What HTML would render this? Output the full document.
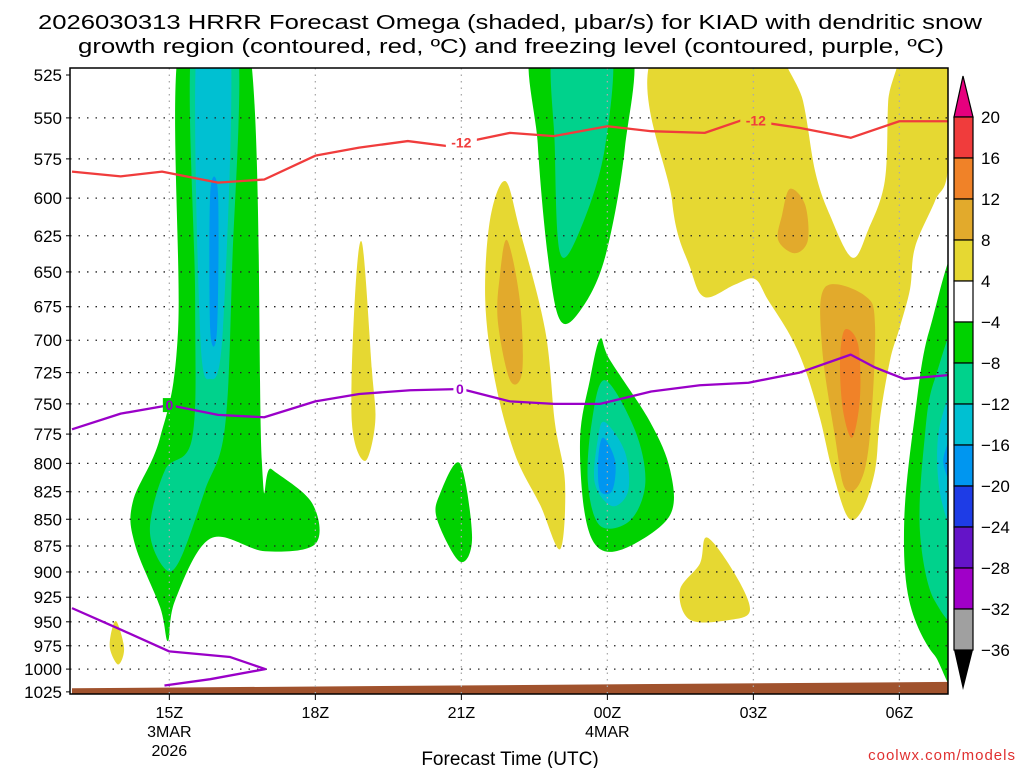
<!DOCTYPE html>
<html><head><meta charset="utf-8"><style>
body{margin:0;background:#fff}
svg{display:block;font-family:"Liberation Sans",sans-serif}
</style></head><body>
<svg id="chart" width="1024" height="768" viewBox="0 0 1024 768" xmlns="http://www.w3.org/2000/svg">
<defs><clipPath id="plotclip"><rect x="70" y="68" width="878" height="626"/></clipPath></defs>
<text x="510" y="29" font-size="20" text-anchor="middle" textLength="944" lengthAdjust="spacingAndGlyphs">2026030313 HRRR Forecast Omega (shaded, μbar/s) for KIAD with dendritic snow</text>
<text x="511" y="53" font-size="20" text-anchor="middle" textLength="866" lengthAdjust="spacingAndGlyphs">growth region (contoured, red, ºC) and freezing level (contoured, purple, ºC)</text>
<g id="shade" clip-path="url(#plotclip)"></g>
<g id="grid"></g>
<g id="lines" clip-path="url(#plotclip)"></g>
<g id="axes"></g>
<g id="cbar"></g>
<text x="510" y="765" font-size="19" text-anchor="middle">Forecast Time (UTC)</text>
<text x="1016" y="760" font-size="15" fill="#e03030" text-anchor="end" letter-spacing="1">coolwx.com/models</text>
</svg>
<script>
// ---- data ----
const pressureTicks=[525,550,575,600,625,650,675,700,725,750,775,800,825,850,875,900,925,950,975,1000,1025];
const timeTickHours=[2,5,8,11,14,17];
const timeTickLabels=["15Z","18Z","21Z","00Z","03Z","06Z"];
const dateLabels={2:["3MAR","2026"],11:["4MAR"]};
const cbarLevels=[20,16,12,8,4,-4,-8,-12,-16,-20,-24,-28,-32,-36];
const cbarColors=["#f03c3c","#f08228","#e2aa2c","#e6d832","#ffffff","#00d200","#00d28c","#00c0d2","#0096f0","#1e3ce6","#6414c8","#a000c8","#a0a0a0"];
const redHours=[0,1,1.85,3,3.95,5,5.9,6.9,7.7,9,9.9,11,11.9,13,13.8,14.95,16,17,18];
const redPres=[583,586,583,590,588,573,568,564,567,559,561,555,558,559,551,556,562,552,552];
const purHours=[0,1,2,3,3.95,5,5.9,6.95,8,9,9.9,10.85,11.9,12.9,13.9,14.95,16,16.5,17.1,18];
const purPres=[771,758,751,759,761,748,742,739,738,748,750,750,740,735,733,725,711,721,730,727];
const pur2Hours=[0,1,2,3.25,3.97,2.84,1.9];
const pur2Pres=[936,958,981,987,1000,1011,1018];
const terrainHours=[0,18];
const terrainPres=[1021,1014];
// shaded regions: [colorIndex, [[hour,hPa],...]]
const blobs=[
 [3,[[12.23,505],[18,505],[18,580],[17.73,602],[17.32,633],[17.22,662],[17.01,690],[16.81,715],[16.6,762],[16.5,806],[16.23,842],[15.94,848],[15.62,806],[15.37,762],[15.06,722],[14.75,696],[14.3,670],[14.03,655],[13.62,659],[13.0,668],[12.7,647],[12.33,602]]],
 [4,[[14.65,505],[15.02,540],[15.27,583],[15.57,611],[16.03,640],[16.36,621],[16.7,589],[16.77,540],[16.87,505]]],
 [2,[[14.75,594],[15.06,604],[15.12,628],[14.85,637],[14.51,628],[14.59,611]]],
 [2,[[15.47,661],[16.29,667],[16.5,690],[16.39,778],[16.19,817],[15.88,822],[15.68,778],[15.41,705]]],
 [1,[[15.88,692],[16.15,703],[16.19,745],[16.03,778],[15.84,755],[15.78,716]]],
 [3,[[8.9,589],[9.2,621],[9.72,692],[9.92,765],[10.13,817],[10.03,878],[9.62,837],[9.1,792],[8.69,731],[8.49,670],[8.59,614]]],
 [2,[[8.94,628],[9.2,670],[9.25,724],[9.0,731],[8.75,686],[8.79,653]]],
 [3,[[5.96,630],[6.16,722],[6.23,765],[6.02,798],[5.75,765],[5.81,670]]],
 [3,[[0.92,950],[1.07,978],[0.95,995],[0.78,978],[0.82,958]]],
 [3,[[13.05,867],[13.62,902],[13.93,938],[13.52,948],[12.7,948],[12.49,918],[12.9,892]]],
 [5,[[2.22,505],[3.62,505],[3.9,798],[4.1,805],[4.93,835],[5,873],[3.97,880],[2.84,868],[2.12,928],[1.97,970],[1.81,935],[1.29,873],[1.25,834],[1.81,778],[2.18,692]]],
 [6,[[2.47,505],[3.39,505],[3.29,647],[3.14,770],[2.73,824],[2.22,888],[1.91,897],[1.6,860],[1.91,806],[2.47,778],[2.53,670]]],
 [7,[[2.57,505],[3.25,505],[3.1,692],[2.84,730],[2.63,692]]],
 [8,[[2.84,597],[3.0,597],[2.98,692],[2.84,692]]],
 [5,[[7.97,800],[8.22,867],[7.97,890],[7.5,850],[7.56,827]]],
 [5,[[9.51,505],[11.42,505],[11.36,568],[10.95,640],[10.44,678],[10.03,685],[9.78,640],[9.57,566]]],
 [6,[[9.92,505],[11.05,505],[10.95,568],[10.44,621],[10.03,637],[9.92,568]]],
 [5,[[10.85,699],[11.05,715],[11.88,765],[12.29,806],[12.29,846],[11.47,875],[10.85,878],[10.54,846],[10.44,778],[10.64,731]]],
 [6,[[10.95,731],[11.57,772],[11.78,817],[11.47,851],[10.85,856],[10.6,817],[10.68,765]]],
 [7,[[10.95,765],[11.36,790],[11.43,824],[11.1,838],[10.74,817],[10.81,778]]],
 [8,[[10.91,778],[11.16,798],[11.1,824],[10.85,824],[10.81,798]]],
 [5,[[18.3,643],[18.3,992],[17.72,985],[17.2,928],[17.1,850],[17.31,762],[17.62,692]]],
 [6,[[18.3,692],[18.3,928],[17.72,928],[17.42,860],[17.52,778],[17.72,731]]],
 [7,[[18.3,731],[18.3,870],[17.85,830],[17.82,770]]],
 [8,[[18.3,765],[18.3,830],[17.9,798]]]
];
// ---- scales ----
const X=h=>72+48.67*h;
const Y=p=>75+922*Math.log(p/525);
const NS="http://www.w3.org/2000/svg";
function mk(tag,attrs,parent){const e=document.createElementNS(NS,tag);for(const k in attrs)e.setAttribute(k,attrs[k]);parent.appendChild(e);return e;}
function smoothClosed(pts){const n=pts.length;let d=`M${pts[0][0]},${pts[0][1]}`;
 for(let i=0;i<n;i++){const p0=pts[(i-1+n)%n],p1=pts[i],p2=pts[(i+1)%n],p3=pts[(i+2)%n];
  const c1=[p1[0]+(p2[0]-p0[0])/6,p1[1]+(p2[1]-p0[1])/6],c2=[p2[0]-(p3[0]-p1[0])/6,p2[1]-(p3[1]-p1[1])/6];
  d+=`C${c1[0]},${c1[1]} ${c2[0]},${c2[1]} ${p2[0]},${p2[1]}`;}
 return d+"Z";}
const shade=document.getElementById('shade');
blobs.forEach((b,i)=>{
 const pts=b[1].map(q=>[X(q[0]),Y(q[1])]);
 const el=mk('path',{d:smoothClosed(pts),fill:cbarColors[b[0]]},shade);
 
 
});
// terrain
const terr=mk('polygon',{points:`${X(terrainHours[0])},${Y(terrainPres[0])} ${X(terrainHours[1])},${Y(terrainPres[1])} ${X(terrainHours[1])},700 ${X(terrainHours[0])},700`,fill:"#a0522d"},shade);


// grid
const grid=document.getElementById('grid');
pressureTicks.forEach(p=>{ if(p===525||p===1025)return;
 const l=mk('line',{x1:70,x2:948,y1:Y(p),y2:Y(p),stroke:"#222","stroke-width":1.3,"stroke-dasharray":"1.5 7"},grid);
 
 
});
timeTickHours.forEach(h=>{
 const l=mk('line',{x1:X(h),x2:X(h),y1:68,y2:694,stroke:"#aaa","stroke-width":1.3,"stroke-dasharray":"1.5 5"},grid);
 
 
});
// lines
const lines=document.getElementById('lines');
function poly(hs,ps,color,name){const el=mk('polyline',{points:hs.map((h,i)=>X(h)+","+Y(ps[i])).join(" "),fill:"none",stroke:color,"stroke-width":2.3,"stroke-linejoin":"round"},lines);
 
 }
poly(redHours,redPres,"#f03c3c","dgz-minus12-line");
poly(purHours,purPres,"#9a00c8","freezing-level-line");
poly(pur2Hours,pur2Pres,"#9a00c8","freezing-level-line-low");
function lbl(h,p,t,c,bg,name){const w=t.length*9+4;mk('rect',{x:X(h)-w/2,y:Y(p)-7,width:w,height:14,fill:bg},lines);
 const e=mk('text',{x:X(h),y:Y(p)+5,"font-size":14,"font-weight":"bold",fill:c,"text-anchor":"middle"},lines);e.textContent=t;
 
 }
lbl(8.0,565,"-12","#f03c3c","#fff","contour-label-minus12");
lbl(14.05,551.5,"-12","#f03c3c","#e6d832","contour-label-minus12");
lbl(2.0,751,"0","#9a00c8","#00d200","contour-label-zero");
lbl(7.97,738,"0","#9a00c8","#fff","contour-label-zero");
// axes
const axes=document.getElementById('axes');
const fr=mk('rect',{x:70,y:68,width:878,height:626,fill:"none",stroke:"#000","stroke-width":1.5},axes);


pressureTicks.forEach(p=>{const t=mk('text',{x:62,y:Y(p)+6,"font-size":17,"text-anchor":"end"},axes);t.textContent=p;
 
 
 mk('line',{x1:66,x2:70,y1:Y(p),y2:Y(p),stroke:"#000"},axes);});
timeTickHours.forEach((h,i)=>{const t=mk('text',{x:X(h),y:718,"font-size":16,"text-anchor":"middle"},axes);t.textContent=timeTickLabels[i];
 
 
 mk('line',{x1:X(h),x2:X(h),y1:694,y2:700,stroke:"#000"},axes);
 (dateLabels[h]||[]).forEach((s,j)=>{const d=mk('text',{x:X(h),y:737+j*19,"font-size":16,"text-anchor":"middle"},axes);d.textContent=s;
  
  });});
// colorbar
const cb=document.getElementById('cbar');
const cy=i=>117+41*i;
const up=mk('polygon',{points:`963,76 954,117 973,117`,fill:"#e6007e",stroke:"#000","stroke-width":1.2},cb);


cbarColors.forEach((c,i)=>{const r=mk('rect',{x:954,y:cy(i),width:19,height:41,fill:c,stroke:"#000","stroke-width":1.2},cb);
 
 });
const dn=mk('polygon',{points:`954,${cy(13)} 973,${cy(13)} 963,690`,fill:"#000"},cb);


cbarLevels.forEach((v,i)=>{const t=mk('text',{x:981,y:cy(i)+6,"font-size":17},cb);t.textContent=v<0?"\u2212"+(-v):v;
 
 });
</script>
</body></html>
